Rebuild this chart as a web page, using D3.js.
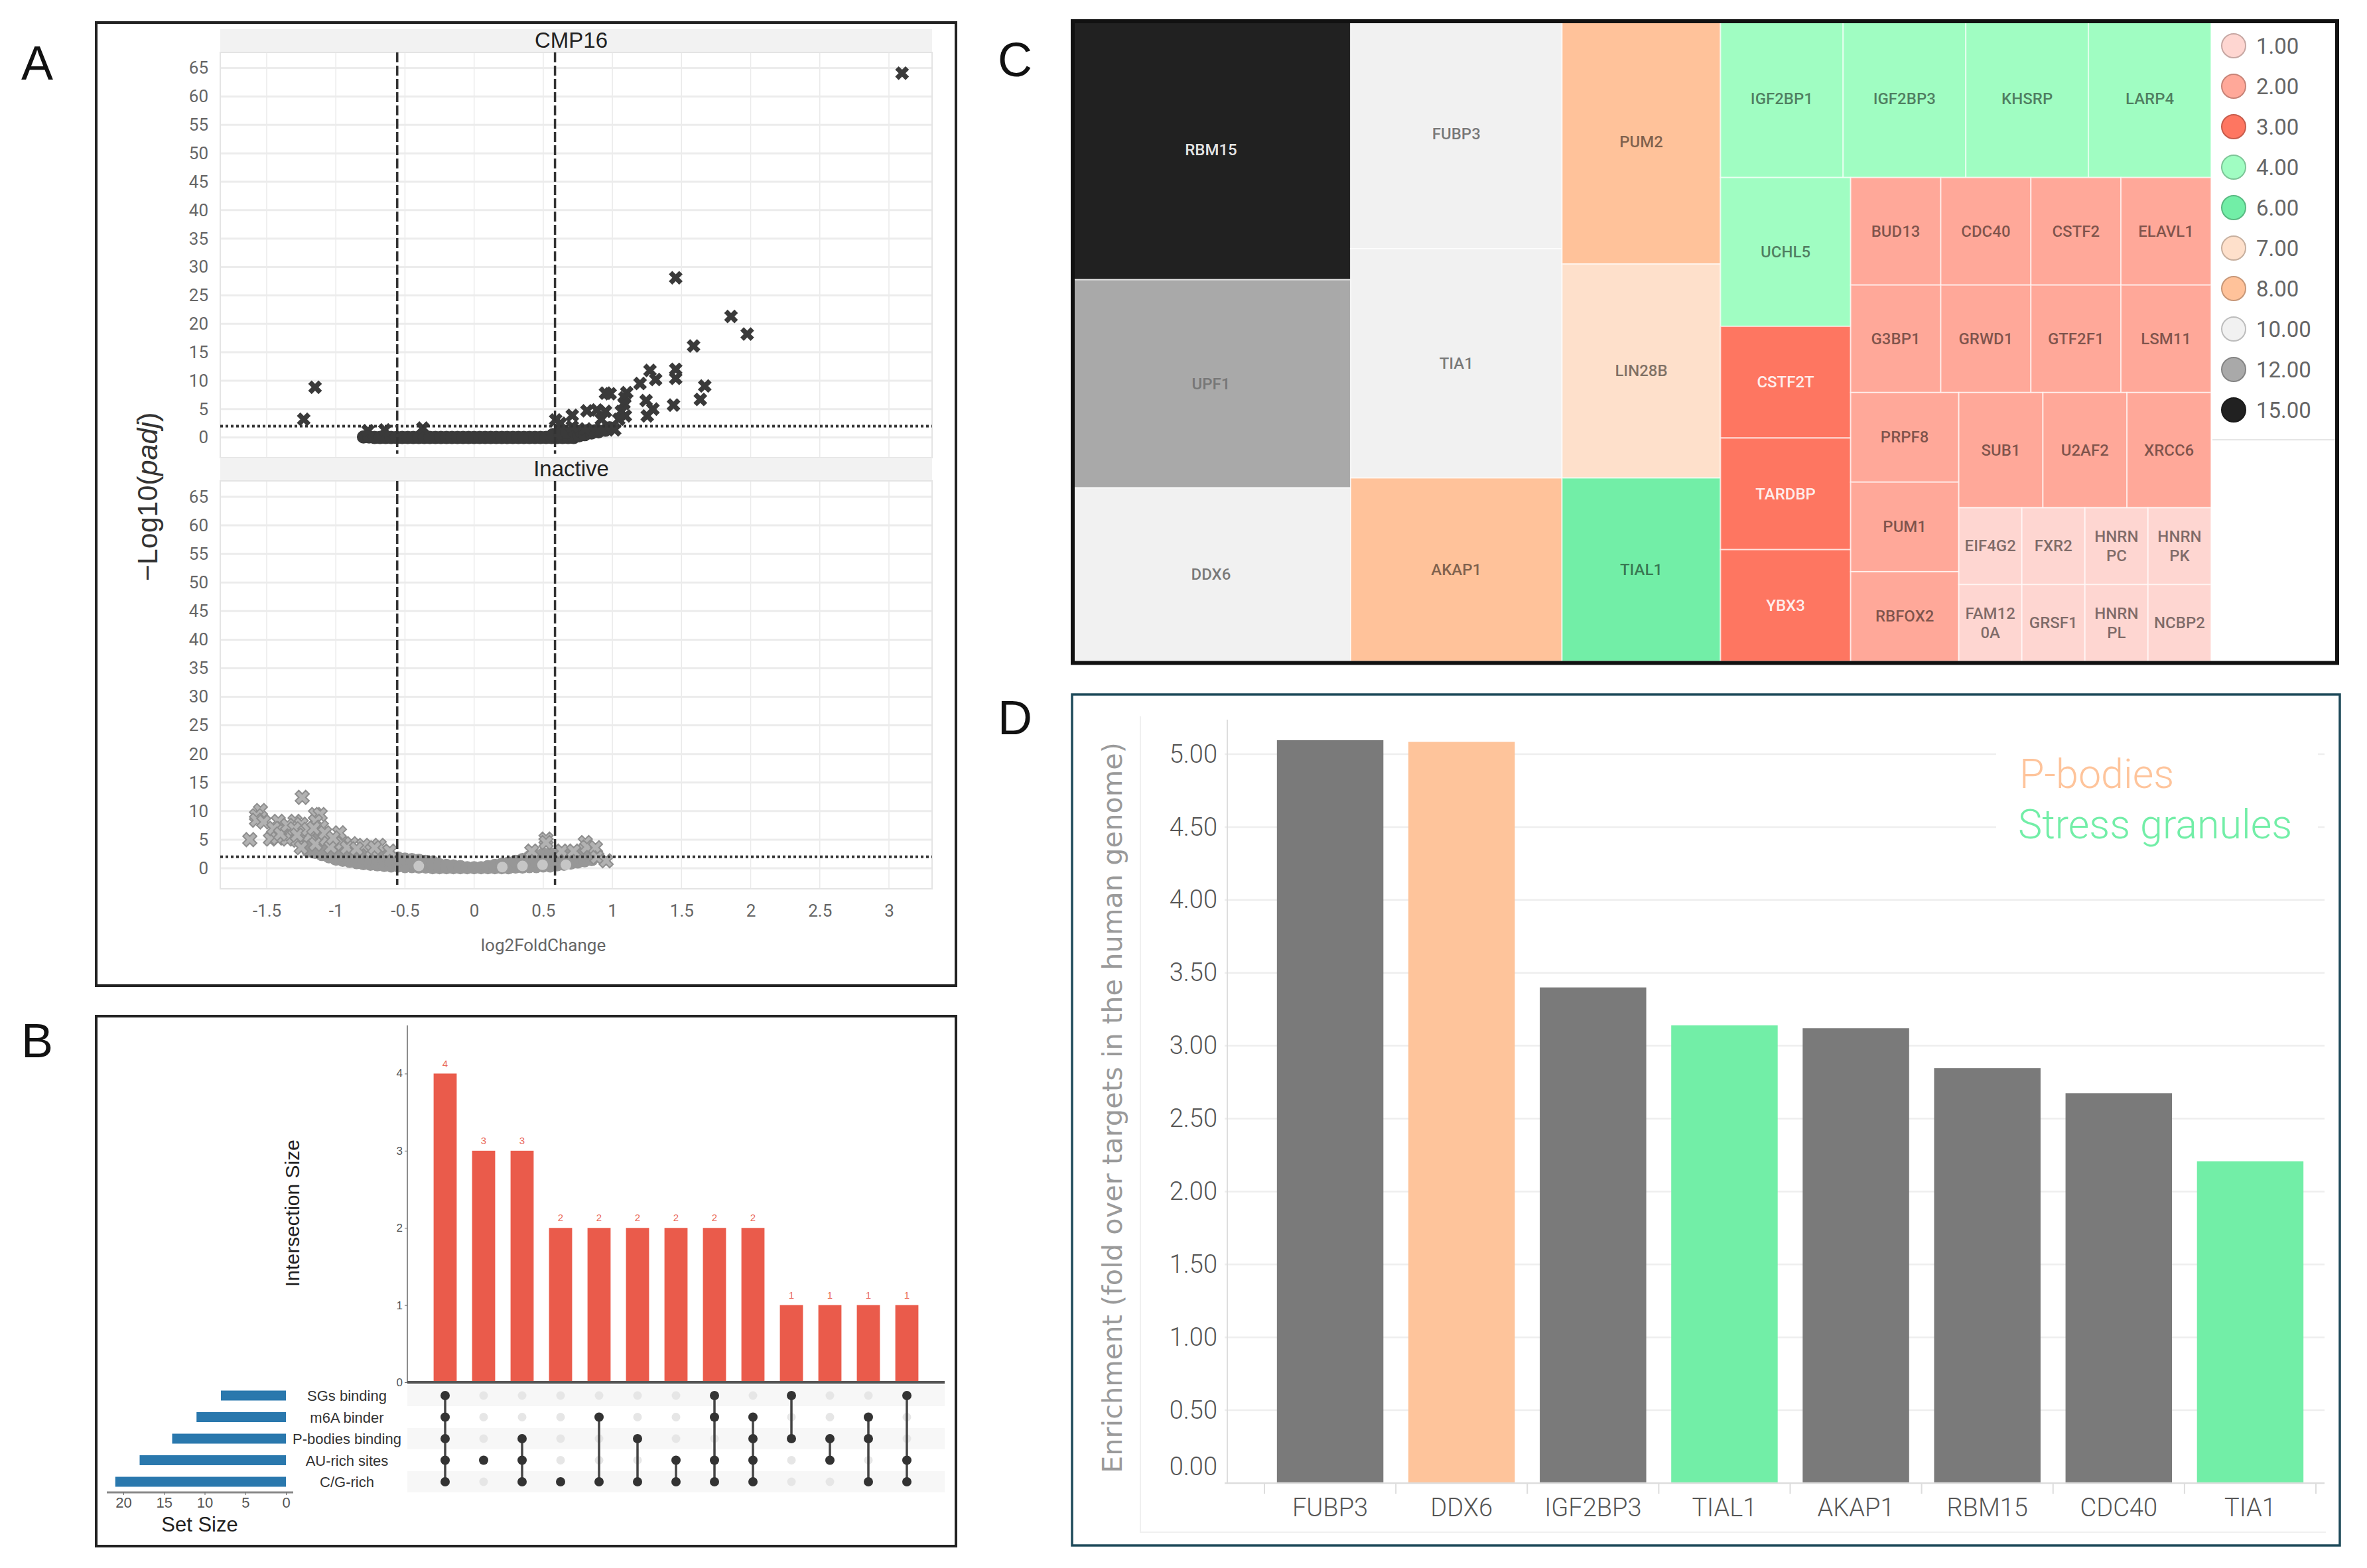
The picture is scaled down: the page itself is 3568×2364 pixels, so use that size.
<!DOCTYPE html>
<html>
<head>
<meta charset="utf-8">
<script src="https://cdn.jsdelivr.net/npm/d3@7"></script>
<style>
  body { margin: 0; background: #fff; }
  text { font-family: "Liberation Sans", sans-serif; }
  .rob text, text.rob { font-family: Roboto, sans-serif; }
</style>
</head>
<body>
<div id="chart"></div>
<script>
// ---- panel A: volcano plots
const volcanoXTicks = [-1.5, -1, -0.5, 0, 0.5, 1, 1.5, 2, 2.5, 3];
const volcanoYTicks = [0, 5, 10, 15, 20, 25, 30, 35, 40, 45, 50, 55, 60, 65];
const foldCutoffs = [-0.556, 0.585];
const padjCutoff = 2;

const cmpCrosses = [
  [3.095, 64.1], [1.458, 28.1], [1.858, 21.3], [1.975, 18.2], [1.587, 16.1], [1.272, 11.8], [1.313, 10.2],
  [1.458, 12], [1.458, 10.4], [1.2, 9.5], [1.668, 9.06], [1.636, 6.7], [1.442, 5.7], [1.244, 6.5],
  [1.293, 5], [1.252, 3.8], [-1.15, 8.84], [-1.232, 3.2], [-0.371, 1.66], [-0.646, 1.34], [-0.767, 1.2],
  [0.71, 3.9], [0.816, 4.7], [0.888, 4.85], [0.95, 4.6], [0.92, 3.2], [0.95, 7.8], [0.984, 7.7],
  [1.104, 7.9], [1.09, 7], [1.084, 6], [1.065, 4.6], [1.094, 3.8], [1.046, 3.2], [1.017, 1.35],
  [0.59, 3.1], [0.624, 2.5], [0.71, 1.9], [0.806, 1.5], [0.873, 1.1], [0.92, 1.5]
];
const cmpCircles = [
  [-0.8, 0.1], [-0.76, 0.1], [-0.72, 0], [-0.68, 0], [-0.64, 0], [-0.6, 0], [-0.56, 0], [-0.52, 0], [-0.48, 0],
  [-0.44, 0], [-0.4, 0], [-0.36, 0], [-0.32, 0], [-0.28, 0], [-0.24, 0], [-0.2, 0], [-0.16, 0], [-0.12, 0],
  [-0.08, 0], [-0.04, 0], [0, 0], [0.04, 0], [0.08, 0], [0.12, 0], [0.16, 0], [0.2, 0], [0.24, 0], [0.28, 0],
  [0.32, 0], [0.36, 0], [0.4, 0], [0.44, 0], [0.48, 0], [0.52, 0], [0.56, 0], [0.6, 0], [0.64, 0], [0.68, 0],
  [0.72, 0], [0.57, 0.5], [0.62, 0.8], [0.67, 0.9], [0.72, 1], [0.76, 0.3], [0.77, 1.1], [0.8, 0.5], [0.82, 1.2],
  [0.85, 0.8], [0.88, 1.2], [0.9, 1], [0.95, 1.3], [0.98, 1.7]
];
const inactiveCrosses = [
  [-1.243, 12.4], [-1.545, 10.1], [-1.574, 9.2], [-1.574, 8.4], [-1.521, 8.1], [-1.622, 5], [-1.473, 5.1],
  [-1.416, 8.2], [-1.42, 5.3], [-1.39, 6.9], [-1.35, 5.1], [-1.295, 8.2], [-1.25, 7.7], [-1.33, 6],
  [-1.276, 4.9], [-1.232, 6.5], [-1.147, 9.4], [-1.113, 9.4], [-1.147, 8.2], [-1.104, 7.2], [-1.19, 5.7],
  [-1.25, 3.6], [-1.147, 4.2], [-1.07, 5.1], [-0.974, 6.2], [-1.036, 3.7], [-0.955, 4.3], [-0.888, 4.3],
  [-0.8, 4], [-0.686, 4], [-0.739, 3.1], [-0.61, 3], [0.52, 5.1], [0.52, 4.5], [0.804, 4.5], [0.816, 3.7],
  [0.878, 3.6], [0.888, 1.9], [0.955, 1.3], [0.633, 3], [0.417, 3], [0.72, 3],
  [-1.45, 7], [-1.4, 6], [-1.35, 7.5], [-1.3, 6.9], [-1.28, 5.8], [-1.2, 6.8], [-1.16, 7],
  [-1.08, 6.2], [-1.02, 5.3], [-0.92, 3.6], [-0.85, 3.4], [-0.72, 3.6]
];
const inactiveBand = [
  [-1.2, 3, 4, 5], [-1.15, 2.8, 4, 5], [-1.1, 2.4, 3.4, 4.4], [-1.05, 2, 3, 4], [-1, 1.6, 2.6, 3.6, 4.4],
  [-0.95, 1.4, 2.4, 3.4], [-0.9, 1.2, 2.2, 3.2], [-0.85, 1, 2, 3], [-0.8, 0.8, 1.8, 2.8], [-0.75, 0.7, 1.7, 2.7],
  [-0.7, 0.6, 1.6, 2.6], [-0.65, 0.5, 1.5, 2.4], [-0.6, 0.4, 1.2, 2], [-0.55, 0.4, 1.2, 1.8], [-0.5, 0.3, 1, 1.6],
  [-0.45, 0.3, 1, 1.5], [-0.4, 0.2, 0.9, 1.4], [-0.35, 0.2, 0.8, 1.2], [-0.3, 0.1, 0.7, 1.1], [-0.25, 0.1, 0.6],
  [-0.2, 0.1, 0.5], [-0.15, 0.1, 0.4], [-0.1, 0.1, 0.3], [-0.05, 0.1], [0, 0.1], [0.05, 0.1], [0.1, 0.1, 0.3],
  [0.15, 0.1, 0.5], [0.2, 0.1, 0.7], [0.25, 0.1, 0.9], [0.3, 0.2, 1.2], [0.35, 0.2, 1.5], [0.4, 0.3, 1.2, 2],
  [0.45, 0.3, 1.2, 2.2], [0.5, 0.4, 1.4, 2.5], [0.55, 0.4, 1.4, 2.5], [0.6, 0.6, 1.6, 2.6], [0.65, 0.7, 1.7, 2.5],
  [0.7, 0.9, 1.9, 2.5], [0.75, 1.1, 2, 2.8], [0.8, 1.3, 2.3], [0.85, 1.5]
];
const inactivePaleCircles = [[-0.4, 0.4], [0.204, 0.2], [0.35, 0.4], [0.495, 0.6], [0.664, 0.6]];

// ---- panel B: upset plot
const setNames = ["SGs binding", "m6A binder", "P-bodies binding", "AU-rich sites", "C/G-rich"];
const setSizes = [8, 11, 14, 18, 21];
const setSizeTicks = [20, 15, 10, 5, 0];
const intersectionSizes = [4, 3, 3, 2, 2, 2, 2, 2, 2, 1, 1, 1, 1];
const intersectionTicks = [0, 1, 2, 3, 4];
const intersectionMembers = [
  [0, 1, 2, 3, 4], [3], [2, 3, 4], [4], [1, 4], [2, 4], [3, 4],
  [0, 1, 3, 4], [1, 2, 3, 4], [0, 2], [2, 3], [1, 2, 4], [0, 3, 4]
];

// ---- panel C: treemap (nesting follows the picture, areas come from the values)
const legendValues = [1, 2, 3, 4, 6, 7, 8, 10, 12, 15];
const legendColors = ["#fed6d1", "#ffa899", "#fe7661", "#a0fdc2", "#72eea7", "#fee0cb", "#ffc29a", "#f1f1f1", "#a9a9a9", "#212121"];
const col1Genes = [["RBM15", 15], ["UPF1", 12], ["DDX6", 10]];
const col2Genes = [["FUBP3", 10], ["TIA1", 10], ["AKAP1", 8]];
const col3Genes = [["PUM2", 8], ["LIN28B", 7], ["TIAL1", 6]];
const topRowGenes = [["IGF2BP1", 4], ["IGF2BP3", 4], ["KHSRP", 4], ["LARP4", 4]];
const midColGenes = [["UCHL5", 4], ["CSTF2T", 3], ["TARDBP", 3], ["YBX3", 3]];
const twosRow1 = [["BUD13", 2], ["CDC40", 2], ["CSTF2", 2], ["ELAVL1", 2]];
const twosRow2 = [["G3BP1", 2], ["GRWD1", 2], ["GTF2F1", 2], ["LSM11", 2]];
const twosCol = [["PRPF8", 2], ["PUM1", 2], ["RBFOX2", 2]];
const twosRow3 = [["SUB1", 2], ["U2AF2", 2], ["XRCC6", 2]];
const onesRow1 = [["EIF4G2", 1], ["FXR2", 1], ["HNRNPC", 1], ["HNRNPK", 1]];
const onesRow2 = [["FAM120A", 1], ["GRSF1", 1], ["HNRNPL", 1], ["NCBP2", 1]];
const wrappedNames = { HNRNPC: ["HNRN", "PC"], HNRNPK: ["HNRN", "PK"], HNRNPL: ["HNRN", "PL"], FAM120A: ["FAM12", "0A"] };

// ---- panel D: enrichment bars
const enrichGenes = ["FUBP3", "DDX6", "IGF2BP3", "TIAL1", "AKAP1", "RBM15", "CDC40", "TIA1"];
const enrichValues = [5.096, 5.084, 3.4, 3.14, 3.12, 2.847, 2.674, 2.207];
const enrichGroups = ["none", "pb", "none", "sg", "none", "none", "none", "sg"];
const enrichTicks = [0, 0.5, 1, 1.5, 2, 2.5, 3, 3.5, 4, 4.5, 5];

const svg = d3.select("#chart").append("svg").attr("width", 3568).attr("height", 2364);

// panel letters
[["A", 32, 120], ["B", 32, 1594], ["C", 1504, 115], ["D", 1504, 1107]].forEach(([t, x, y]) => {
  svg.append("text").attr("x", x).attr("y", y).attr("font-size", 72).attr("fill", "#111").text(t);
});

function frame(x0, y0, x1, y1, color, w) {
  svg.append("rect").attr("x", x0).attr("y", y0).attr("width", x1 - x0).attr("height", y1 - y0)
    .attr("fill", "none").attr("stroke", color).attr("stroke-width", w);
}

function volcano() {
  frame(145, 34, 1441, 1486, "#222", 4);
  const x = d3.scaleLinear().domain([-1.5, 3]).range([402, 1340]);
  const xLeft = 332, xRight = 1405;

  const facets = [
    { name: "CMP16", stripTop: 44, top: 79, bottom: 690, y65: 102.6, y0: 659.6 },
    { name: "Inactive", stripTop: 690, top: 725, bottom: 1340, y65: 749, y0: 1309 }
  ];

  facets.forEach((f) => {
    const y = d3.scaleLinear().domain([0, 65]).range([f.y0, f.y65]);
    const g = svg.append("g");

    g.append("rect").attr("x", xLeft).attr("y", f.stripTop).attr("width", xRight - xLeft)
      .attr("height", f.top - f.stripTop).attr("fill", "#f2f2f2");
    g.append("text").attr("x", 861).attr("y", (f.stripTop + f.top) / 2 + 10)
      .attr("text-anchor", "middle").attr("font-size", 33).attr("fill", "#222").text(f.name);

    // grid
    g.selectAll(".vg").data(volcanoXTicks).join("line")
      .attr("x1", (d) => x(d)).attr("x2", (d) => x(d)).attr("y1", f.top).attr("y2", f.bottom)
      .attr("stroke", "#eaeaea").attr("stroke-width", 1.5);
    g.selectAll(".hg").data(volcanoYTicks).join("line")
      .attr("x1", xLeft).attr("x2", xRight).attr("y1", (d) => y(d)).attr("y2", (d) => y(d))
      .attr("stroke", "#ececec").attr("stroke-width", 3);
    g.append("rect").attr("x", xLeft).attr("y", f.top).attr("width", xRight - xLeft)
      .attr("height", f.bottom - f.top).attr("fill", "none").attr("stroke", "#e4e4e4").attr("stroke-width", 2);

    // y axis
    const yAxis = g.append("g").attr("class", "rob").attr("transform", `translate(${xLeft - 8},0)`)
      .call(d3.axisLeft(y).tickValues(volcanoYTicks).tickSize(0).tickPadding(10).tickFormat((d) => String(d)));
    yAxis.select(".domain").remove();
    yAxis.selectAll("text").attr("font-size", 26).attr("fill", "#666");
  });

  // points of each facet
  const cross = d3.symbol().type(d3.symbolCross).size(270);
  const yTop = d3.scaleLinear().domain([0, 65]).range([659.6, 102.6]);
  const yLow = d3.scaleLinear().domain([0, 65]).range([1309, 749]);

  svg.append("g").selectAll("circle").data(cmpCircles).join("circle")
    .attr("cx", (d) => x(d[0])).attr("cy", (d) => yTop(d[1])).attr("r", 10).attr("fill", "#3a3a3a");
  svg.append("g").selectAll("path").data(cmpCrosses).join("path")
    .attr("d", cross).attr("fill", "#3a3a3a")
    .attr("transform", (d) => `translate(${x(d[0])},${yTop(d[1])}) rotate(45)`);

  const bandPoints = inactiveBand.flatMap((c) => c.slice(1).map((v) => [c[0], v]));
  svg.append("g").selectAll("circle").data(bandPoints).join("circle")
    .attr("cx", (d) => x(d[0])).attr("cy", (d) => yLow(d[1])).attr("r", 10).attr("fill", "#979797");
  svg.append("g").selectAll("path").data(inactiveCrosses).join("path")
    .attr("d", cross).attr("fill", "#b2b2b2").attr("stroke", "#8e8e8e").attr("stroke-width", 2)
    .attr("transform", (d) => `translate(${x(d[0])},${yLow(d[1])}) rotate(45)`);
  svg.append("g").selectAll("circle").data(inactivePaleCircles).join("circle")
    .attr("cx", (d) => x(d[0])).attr("cy", (d) => yLow(d[1])).attr("r", 8).attr("fill", "#c6c6c6");

  // cutoffs on top of the points
  [[79, 690, yTop], [725, 1340, yLow]].forEach(([t, b, y]) => {
    svg.append("g").selectAll("line").data(foldCutoffs).join("line")
      .attr("x1", (d) => x(d)).attr("x2", (d) => x(d)).attr("y1", t).attr("y2", b - 6)
      .attr("stroke", "#333").attr("stroke-width", 3.5).attr("stroke-dasharray", "15 5");
    svg.append("line").attr("x1", xLeft).attr("x2", xRight).attr("y1", y(padjCutoff)).attr("y2", y(padjCutoff))
      .attr("stroke", "#333").attr("stroke-width", 4).attr("stroke-dasharray", "4 4");
  });

  // x axis
  const xAxis = svg.append("g").attr("class", "rob").attr("transform", "translate(0,1342)")
    .call(d3.axisBottom(x).tickValues(volcanoXTicks).tickSize(0).tickPadding(22).tickFormat((d) => String(d)));
  xAxis.select(".domain").remove();
  xAxis.selectAll("text").attr("font-size", 26).attr("fill", "#666");

  svg.append("text").attr("class", "rob").attr("x", 819).attr("y", 1434).attr("text-anchor", "middle")
    .attr("font-size", 26).attr("fill", "#666").text("log2FoldChange");

  const yl = svg.append("text").attr("transform", "translate(237,749) rotate(-90)").attr("text-anchor", "middle")
    .attr("font-size", 43).attr("fill", "#333");
  yl.append("tspan").text("−Log10(");
  yl.append("tspan").attr("font-style", "italic").text("padj");
  yl.append("tspan").text(")");
}

function upset() {
  frame(145, 1532, 1441, 2331, "#222", 4);
  const rowY = d3.scalePoint().domain(setNames).range([2104, 2234]);
  const colX = d3.scaleBand().domain(d3.range(intersectionSizes.length)).range([614, 1424])
    .paddingInner(0.4).paddingOuter(0.683);
  const y = d3.scaleLinear().domain([0, 4]).range([2084, 1618.5]);
  const setX = d3.scaleLinear().domain([0, 20]).range([431, 186]);
  const cx = (i) => colX(i) + colX.bandwidth() / 2;

  // stripes behind the matrix
  svg.append("g").selectAll("rect").data(setNames.filter((d, i) => i % 2 === 0)).join("rect")
    .attr("x", 614).attr("width", 810).attr("y", (d) => rowY(d) - 16).attr("height", 32).attr("fill", "#f7f7f7");

  // intersection bars
  svg.append("g").selectAll("rect").data(intersectionSizes).join("rect")
    .attr("x", (d, i) => colX(i)).attr("width", colX.bandwidth())
    .attr("y", (d) => y(d)).attr("height", (d) => y(0) - y(d)).attr("fill", "#ea5b4b");
  svg.append("g").selectAll("text").data(intersectionSizes).join("text")
    .attr("x", (d, i) => cx(i)).attr("y", (d) => y(d) - 10).attr("text-anchor", "middle")
    .attr("font-size", 15).attr("fill", "#ea6a5c").text((d) => d);

  const yAxis = svg.append("g").attr("transform", "translate(614,0)")
    .call(d3.axisLeft(y).tickValues(intersectionTicks).tickSize(4).tickPadding(3).tickFormat((d) => String(d)));
  yAxis.select(".domain").attr("d", "M0,1546V2084").attr("stroke", "#666").attr("stroke-width", 1.5);
  yAxis.selectAll("line").attr("stroke", "#666");
  yAxis.selectAll("text").attr("font-size", 17).attr("fill", "#555");
  svg.append("line").attr("x1", 614).attr("x2", 1424).attr("y1", 2084).attr("y2", 2084)
    .attr("stroke", "#555").attr("stroke-width", 4);

  svg.append("text").attr("transform", "translate(451,1829) rotate(-90)").attr("text-anchor", "middle")
    .attr("font-size", 30).attr("fill", "#222").text("Intersection Size");

  // matrix dots and links
  const cells = intersectionMembers.flatMap((m, i) => setNames.map((s, r) => ({ i, s, on: m.includes(r) })));
  svg.append("g").selectAll("circle").data(cells.filter((d) => !d.on)).join("circle")
    .attr("cx", (d) => cx(d.i)).attr("cy", (d) => rowY(d.s)).attr("r", 6.5).attr("fill", "#e6e6e6");
  svg.append("g").selectAll("line").data(intersectionMembers).join("line")
    .attr("x1", (d, i) => cx(i)).attr("x2", (d, i) => cx(i))
    .attr("y1", (d) => rowY(setNames[d[0]])).attr("y2", (d) => rowY(setNames[d[d.length - 1]]))
    .attr("stroke", "#444").attr("stroke-width", 3.5);
  svg.append("g").selectAll("circle").data(cells.filter((d) => d.on)).join("circle")
    .attr("cx", (d) => cx(d.i)).attr("cy", (d) => rowY(d.s)).attr("r", 7).attr("fill", "#333");

  // set size bars
  svg.append("g").selectAll("rect").data(setSizes).join("rect")
    .attr("x", (d) => setX(d)).attr("width", (d) => setX(0) - setX(d))
    .attr("y", (d, i) => rowY(setNames[i]) - 7.5).attr("height", 15).attr("fill", "#2a78ad");
  svg.append("g").selectAll("text").data(setNames).join("text")
    .attr("x", 523).attr("y", (d) => rowY(d) + 8).attr("text-anchor", "middle")
    .attr("font-size", 22).attr("fill", "#333").text((d) => d);

  const sAxis = svg.append("g").attr("transform", "translate(0,2250)")
    .call(d3.axisBottom(setX).tickValues(setSizeTicks).tickSize(4).tickPadding(3).tickFormat((d) => String(d)));
  sAxis.select(".domain").attr("d", "M161,0H442").attr("stroke", "#888").attr("stroke-width", 3);
  sAxis.selectAll("line").attr("stroke", "#666");
  sAxis.selectAll("text").attr("font-size", 22).attr("fill", "#555");
  svg.append("text").attr("x", 301).attr("y", 2309).attr("text-anchor", "middle")
    .attr("font-size", 31).attr("fill", "#222").text("Set Size");
}

function treemap() {
  const color = d3.scaleOrdinal().domain(legendValues).range(legendColors);
  const leaves = (list) => list.map(([name, value]) => ({ name, value }));
  const dice = (children) => ({ dir: "x", children });
  const slice = (children) => ({ dir: "y", children });

  const tree = dice([
    slice(leaves(col1Genes)),
    slice(leaves(col2Genes)),
    slice(leaves(col3Genes)),
    slice([
      dice(leaves(topRowGenes)),
      dice([
        slice(leaves(midColGenes)),
        slice([
          dice(leaves(twosRow1)),
          dice(leaves(twosRow2)),
          dice([
            slice(leaves(twosCol)),
            slice([dice(leaves(twosRow3)), dice(leaves(onesRow1)), dice(leaves(onesRow2))])
          ])
        ])
      ])
    ])
  ]);

  const root = d3.hierarchy(tree).sum((d) => d.value || 0);
  // the map runs a little under the black frame on the left and at the top
  d3.treemap().size([1718, 967.5])
    .tile((n, x0, y0, x1, y1) => (n.data.dir === "x" ? d3.treemapDice : d3.treemapSlice)(n, x0, y0, x1, y1))(root);

  const g = svg.append("g").attr("class", "rob").attr("transform", "translate(1615,29.5)");
  const cell = g.selectAll("g").data(root.leaves()).join("g");
  cell.append("rect").attr("x", (d) => d.x0).attr("y", (d) => d.y0)
    .attr("width", (d) => d.x1 - d.x0).attr("height", (d) => d.y1 - d.y0)
    .attr("fill", (d) => color(d.data.value))
    .attr("stroke", "#fff").attr("stroke-opacity", 0.6).attr("stroke-width", 2);

  const light = (v) => v === 3 || v === 15;
  cell.each(function (d) {
    const lines = wrappedNames[d.data.name] || [d.data.name];
    const cx = (d.x0 + d.x1) / 2, cy = (d.y0 + d.y1) / 2;
    const v = d.data.value;
    const t = d3.select(this).append("text").attr("text-anchor", "middle")
      .attr("font-size", 24).attr("font-weight", 500)
      .attr("fill", light(v) ? "#fff" : v === 12 ? "#777" : "#000")
      .attr("fill-opacity", light(v) ? 0.9 : v === 12 ? 1 : 0.5);
    lines.forEach((l, i) => {
      t.append("tspan").attr("x", cx).attr("y", cy + 8 + (i - (lines.length - 1) / 2) * 29).text(l);
    });
  });

  // legend
  const legendY = d3.scalePoint().domain(legendValues).range([69, 618]);
  const lg = svg.append("g").attr("class", "rob");
  lg.selectAll("circle").data(legendValues).join("circle")
    .attr("cx", 3367).attr("cy", (d) => legendY(d)).attr("r", 18)
    .attr("fill", (d) => color(d))
    .attr("stroke", (d) => d3.color(color(d)).darker(0.7)).attr("stroke-width", 2);
  lg.selectAll("text").data(legendValues).join("text")
    .attr("x", 3401).attr("y", (d) => legendY(d) + 12)
    .attr("font-size", 33).attr("fill", "#666").text((d) => d3.format(".2f")(d));
  svg.append("line").attr("x1", 3335).attr("x2", 3520).attr("y1", 663).attr("y2", 663)
    .attr("stroke", "#ddd").attr("stroke-width", 1.5);

  // white over the overhang, then the frame
  svg.append("rect").attr("x", 1600).attr("y", 20).attr("width", 17).attr("height", 990).attr("fill", "#fff");
  svg.append("rect").attr("x", 1600).attr("y", 20).attr("width", 1940).attr("height", 12).attr("fill", "#fff");
  frame(1617, 32, 3523, 999.5, "#111", 6);
}

function enrichment() {
  frame(1616, 1047, 3527, 2330, "#1e4a5a", 3.5);
  const x = d3.scaleBand().domain(enrichGenes).range([1906, 3491]).paddingInner(0.19).paddingOuter(0.095);
  const y = d3.scaleLinear().domain([0, 5]).range([2236, 1137]);
  const color = d3.scaleOrdinal().domain(["none", "pb", "sg"]).range(["#7a7a7a", "#fec49b", "#72eea7"]);

  // faint inner box
  svg.append("path").attr("d", "M1719,1080V2310H3506").attr("fill", "none").attr("stroke", "#f0f0f0").attr("stroke-width", 2);

  svg.append("g").selectAll("line").data(enrichTicks.slice(1)).join("line")
    .attr("x1", 1846).attr("x2", 3504).attr("y1", (d) => y(d)).attr("y2", (d) => y(d))
    .attr("stroke", "#eeeeee").attr("stroke-width", 2.5);
  svg.append("rect").attr("x", 3009).attr("y", 1110).attr("width", 485).attr("height", 150).attr("fill", "#fff");

  svg.append("g").selectAll("rect").data(enrichValues).join("rect")
    .attr("x", (d, i) => x(enrichGenes[i])).attr("width", x.bandwidth())
    .attr("y", (d) => y(d)).attr("height", (d) => y(0) - y(d))
    .attr("fill", (d, i) => color(enrichGroups[i]));

  const yAxis = svg.append("g").attr("class", "rob").attr("transform", "translate(1850,0)")
    .call(d3.axisLeft(y).tickValues(enrichTicks).tickSize(0).tickPadding(15).tickFormat(d3.format(".2f")));
  yAxis.select(".domain").attr("d", "M0,1085V2236").attr("stroke", "#ddd").attr("stroke-width", 2);
  yAxis.selectAll("text").attr("font-size", 38).attr("font-weight", 300).attr("fill", "#555")
    .attr("dy", (d) => (d === 0 ? "-0.33em" : "0.32em"));

  const xAxis = svg.append("g").attr("class", "rob").attr("transform", "translate(0,2236)")
    .call(d3.axisBottom(x).tickSize(0).tickPadding(23));
  xAxis.select(".domain").attr("d", "M1846,0H3504").attr("stroke", "#ddd").attr("stroke-width", 2.5);
  xAxis.selectAll("text").attr("font-size", 38).attr("font-weight", 300).attr("fill", "#555");
  svg.append("g").selectAll("line").data(d3.range(enrichGenes.length + 1)).join("line")
    .attr("x1", (d) => 1906 + d * x.step()).attr("x2", (d) => 1906 + d * x.step())
    .attr("y1", 2236).attr("y2", 2252).attr("stroke", "#ddd").attr("stroke-width", 2);

  svg.append("text").attr("transform", "translate(1691,1670) rotate(-90)").attr("text-anchor", "middle")
    .style("font-family", "'DejaVu Sans'")
    .attr("font-size", 41.5).attr("fill", "#9a9a9a").text("Enrichment (fold over targets in the human genome)");

  svg.append("text").attr("class", "rob").attr("x", 3044).attr("y", 1188).attr("font-size", 61).attr("font-weight", 300)
    .attr("fill", "#fec49b").text("P-bodies");
  svg.append("text").attr("class", "rob").attr("x", 3042).attr("y", 1264).attr("font-size", 61).attr("font-weight", 300)
    .attr("fill", "#72eea7").text("Stress granules");
}

volcano();
upset();
treemap();
enrichment();
</script>
</body>
</html>
